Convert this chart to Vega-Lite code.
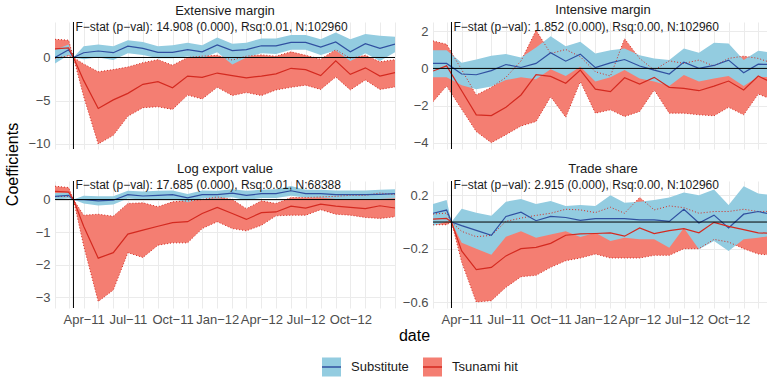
{
"$schema":"https://vega.github.io/schema/vega-lite/v6.json",
"background":"white",
"padding":{"left":4,"top":4,"right":0,"bottom":0},
"datasets":{
"stats":[
{"panel":"ext","date":"2011-03-11","y":3.5,"label":"F−stat (p−val): 14.908 (0.000), Rsq:0.01, N:102960"},
{"panel":"int","date":"2011-03-11","y":2.24,"label":"F−stat (p−val): 1.852 (0.000), Rsq:0.00, N:102960"},
{"panel":"log","date":"2011-03-11","y":0.44,"label":"F−stat (p−val): 17.685 (0.000), Rsq:0.01, N:68388"},
{"panel":"share","date":"2011-03-11","y":0.276,"label":"F−stat (p−val): 2.915 (0.000), Rsq:0.00, N:102960"}
],
"series":[
{"panel":"ext","series":"Substitute","date":"2011-02-01","est":0,"lo":-0.7,"hi":0.9},
{"panel":"ext","series":"Substitute","date":"2011-03-01","est":0.9,"lo":0.3,"hi":1.5},
{"panel":"ext","series":"Substitute","date":"2011-03-11","est":0,"lo":0,"hi":0},
{"panel":"ext","series":"Substitute","date":"2011-04-01","est":0.55,"lo":-0.2,"hi":1.3},
{"panel":"ext","series":"Substitute","date":"2011-05-01","est":0.75,"lo":0,"hi":1.5},
{"panel":"ext","series":"Substitute","date":"2011-06-01","est":0.55,"lo":-0.3,"hi":1.3},
{"panel":"ext","series":"Substitute","date":"2011-07-01","est":1.3,"lo":0.5,"hi":2.0},
{"panel":"ext","series":"Substitute","date":"2011-08-01","est":1.05,"lo":0.3,"hi":1.8},
{"panel":"ext","series":"Substitute","date":"2011-09-01","est":0.6,"lo":-0.1,"hi":1.3},
{"panel":"ext","series":"Substitute","date":"2011-10-01","est":0.6,"lo":-0.1,"hi":1.4},
{"panel":"ext","series":"Substitute","date":"2011-11-01","est":0.9,"lo":0.1,"hi":1.7},
{"panel":"ext","series":"Substitute","date":"2011-12-01","est":0.65,"lo":-0.1,"hi":1.4},
{"panel":"ext","series":"Substitute","date":"2012-01-01","est":1.45,"lo":0.6,"hi":2.3},
{"panel":"ext","series":"Substitute","date":"2012-02-01","est":0.8,"lo":-0.8,"hi":1.6},
{"panel":"ext","series":"Substitute","date":"2012-03-01","est":0.9,"lo":0,"hi":1.7},
{"panel":"ext","series":"Substitute","date":"2012-04-01","est":1.35,"lo":0.5,"hi":2.2},
{"panel":"ext","series":"Substitute","date":"2012-05-01","est":1.35,"lo":0.4,"hi":2.2},
{"panel":"ext","series":"Substitute","date":"2012-06-01","est":1.75,"lo":0.9,"hi":2.6},
{"panel":"ext","series":"Substitute","date":"2012-07-01","est":1.75,"lo":0.9,"hi":2.6},
{"panel":"ext","series":"Substitute","date":"2012-08-01","est":1.2,"lo":0.3,"hi":2.1},
{"panel":"ext","series":"Substitute","date":"2012-09-01","est":1.8,"lo":0.8,"hi":2.9},
{"panel":"ext","series":"Substitute","date":"2012-10-01","est":0.65,"lo":-0.4,"hi":2.1},
{"panel":"ext","series":"Substitute","date":"2012-11-01","est":1.6,"lo":0.5,"hi":2.7},
{"panel":"ext","series":"Substitute","date":"2012-12-01","est":1.05,"lo":-0.4,"hi":2.5},
{"panel":"ext","series":"Substitute","date":"2013-01-01","est":1.55,"lo":0.6,"hi":2.4},
{"panel":"ext","series":"Tsunami hit","date":"2011-02-01","est":1.0,"lo":-0.1,"hi":2.1},
{"panel":"ext","series":"Tsunami hit","date":"2011-03-01","est":1.1,"lo":0.2,"hi":2.0},
{"panel":"ext","series":"Tsunami hit","date":"2011-03-11","est":0,"lo":0,"hi":0},
{"panel":"ext","series":"Tsunami hit","date":"2011-04-01","est":-2.65,"lo":-4.5,"hi":-0.75},
{"panel":"ext","series":"Tsunami hit","date":"2011-05-01","est":-5.9,"lo":-10.0,"hi":-1.65},
{"panel":"ext","series":"Tsunami hit","date":"2011-06-01","est":-4.9,"lo":-9.0,"hi":-1.4},
{"panel":"ext","series":"Tsunami hit","date":"2011-07-01","est":-4.15,"lo":-6.8,"hi":-1.1},
{"panel":"ext","series":"Tsunami hit","date":"2011-08-01","est":-3.1,"lo":-5.8,"hi":-0.6},
{"panel":"ext","series":"Tsunami hit","date":"2011-09-01","est":-2.8,"lo":-5.7,"hi":-0.25},
{"panel":"ext","series":"Tsunami hit","date":"2011-10-01","est":-3.5,"lo":-6.0,"hi":-0.9},
{"panel":"ext","series":"Tsunami hit","date":"2011-11-01","est":-2.15,"lo":-4.35,"hi":0.0},
{"panel":"ext","series":"Tsunami hit","date":"2011-12-01","est":-2.3,"lo":-4.8,"hi":0.15},
{"panel":"ext","series":"Tsunami hit","date":"2012-01-01","est":-1.8,"lo":-3.45,"hi":0.25},
{"panel":"ext","series":"Tsunami hit","date":"2012-02-01","est":-2.1,"lo":-4.4,"hi":-0.3},
{"panel":"ext","series":"Tsunami hit","date":"2012-03-01","est":-2.35,"lo":-4.05,"hi":0.15},
{"panel":"ext","series":"Tsunami hit","date":"2012-04-01","est":-2.15,"lo":-4.4,"hi":0.3},
{"panel":"ext","series":"Tsunami hit","date":"2012-05-01","est":-1.9,"lo":-3.75,"hi":0.15},
{"panel":"ext","series":"Tsunami hit","date":"2012-06-01","est":-1.25,"lo":-3.45,"hi":0.65},
{"panel":"ext","series":"Tsunami hit","date":"2012-07-01","est":-1.4,"lo":-3.2,"hi":0.25},
{"panel":"ext","series":"Tsunami hit","date":"2012-08-01","est":-2.1,"lo":-3.7,"hi":-0.2},
{"panel":"ext","series":"Tsunami hit","date":"2012-09-01","est":-0.4,"lo":-2.25,"hi":0.9},
{"panel":"ext","series":"Tsunami hit","date":"2012-10-01","est":-1.95,"lo":-3.75,"hi":-0.1},
{"panel":"ext","series":"Tsunami hit","date":"2012-11-01","est":-1.2,"lo":-2.6,"hi":0.25},
{"panel":"ext","series":"Tsunami hit","date":"2012-12-01","est":-2.15,"lo":-3.7,"hi":-0.5},
{"panel":"ext","series":"Tsunami hit","date":"2013-01-01","est":-1.75,"lo":-3.4,"hi":-0.25},
{"panel":"int","series":"Substitute","date":"2011-02-01","est":0.27,"lo":-0.48,"hi":0.98},
{"panel":"int","series":"Substitute","date":"2011-03-01","est":0.27,"lo":-0.48,"hi":0.98},
{"panel":"int","series":"Substitute","date":"2011-04-01","est":-0.3,"lo":-0.9,"hi":0.3},
{"panel":"int","series":"Substitute","date":"2011-05-01","est":-0.34,"lo":-1.12,"hi":0.48},
{"panel":"int","series":"Substitute","date":"2011-06-01","est":-0.12,"lo":-0.98,"hi":0.68},
{"panel":"int","series":"Substitute","date":"2011-07-01","est":0.21,"lo":-0.63,"hi":0.77},
{"panel":"int","series":"Substitute","date":"2011-08-01","est":0.05,"lo":-0.48,"hi":0.59},
{"panel":"int","series":"Substitute","date":"2011-09-01","est":0.27,"lo":-0.59,"hi":1.13},
{"panel":"int","series":"Substitute","date":"2011-10-01","est":0.84,"lo":-0.05,"hi":1.73},
{"panel":"int","series":"Substitute","date":"2011-11-01","est":0.39,"lo":-0.41,"hi":1.2},
{"panel":"int","series":"Substitute","date":"2011-12-01","est":0.77,"lo":0.09,"hi":1.43},
{"panel":"int","series":"Substitute","date":"2012-01-01","est":0.04,"lo":-0.71,"hi":0.8},
{"panel":"int","series":"Substitute","date":"2012-02-01","est":0.3,"lo":-0.48,"hi":0.98},
{"panel":"int","series":"Substitute","date":"2012-03-01","est":0.48,"lo":-0.09,"hi":1.07},
{"panel":"int","series":"Substitute","date":"2012-04-01","est":0.13,"lo":-0.54,"hi":0.71},
{"panel":"int","series":"Substitute","date":"2012-05-01","est":-0.09,"lo":-0.71,"hi":0.54},
{"panel":"int","series":"Substitute","date":"2012-06-01","est":-0.3,"lo":-0.95,"hi":0.45},
{"panel":"int","series":"Substitute","date":"2012-07-01","est":0.34,"lo":-0.36,"hi":1.07},
{"panel":"int","series":"Substitute","date":"2012-08-01","est":0,"lo":-0.71,"hi":0.84},
{"panel":"int","series":"Substitute","date":"2012-09-01","est":0.16,"lo":-0.54,"hi":1.38},
{"panel":"int","series":"Substitute","date":"2012-10-01","est":0.45,"lo":-0.41,"hi":1.34},
{"panel":"int","series":"Substitute","date":"2012-11-01","est":-0.23,"lo":-0.95,"hi":0.45},
{"panel":"int","series":"Substitute","date":"2012-12-01","est":0.23,"lo":-0.45,"hi":0.95},
{"panel":"int","series":"Substitute","date":"2013-01-01","est":0.2,"lo":-0.48,"hi":0.84},
{"panel":"int","series":"Tsunami hit","date":"2011-02-01","est":-0.14,"lo":-1.79,"hi":1.48},
{"panel":"int","series":"Tsunami hit","date":"2011-03-01","est":0.14,"lo":-0.95,"hi":1.3},
{"panel":"int","series":"Tsunami hit","date":"2011-04-01","est":-1.2,"lo":-2.2,"hi":-0.07},
{"panel":"int","series":"Tsunami hit","date":"2011-05-01","est":-2.5,"lo":-3.4,"hi":-1.43},
{"panel":"int","series":"Tsunami hit","date":"2011-06-01","est":-2.54,"lo":-4.0,"hi":-1.02},
{"panel":"int","series":"Tsunami hit","date":"2011-07-01","est":-2.09,"lo":-3.57,"hi":-0.48},
{"panel":"int","series":"Tsunami hit","date":"2011-08-01","est":-1.43,"lo":-3.1,"hi":0.4},
{"panel":"int","series":"Tsunami hit","date":"2011-09-01","est":-0.34,"lo":-2.86,"hi":2.05},
{"panel":"int","series":"Tsunami hit","date":"2011-10-01","est":-0.43,"lo":-1.52,"hi":0.8},
{"panel":"int","series":"Tsunami hit","date":"2011-11-01","est":-0.8,"lo":-2.63,"hi":1.02},
{"panel":"int","series":"Tsunami hit","date":"2011-12-01","est":-0.09,"lo":-0.71,"hi":0.63},
{"panel":"int","series":"Tsunami hit","date":"2012-01-01","est":-1.12,"lo":-2.41,"hi":-0.18},
{"panel":"int","series":"Tsunami hit","date":"2012-02-01","est":-1.25,"lo":-2.23,"hi":-0.41},
{"panel":"int","series":"Tsunami hit","date":"2012-03-01","est":-0.5,"lo":-2.59,"hi":1.6},
{"panel":"int","series":"Tsunami hit","date":"2012-04-01","est":-0.84,"lo":-2.32,"hi":0.54},
{"panel":"int","series":"Tsunami hit","date":"2012-05-01","est":-0.48,"lo":-1.16,"hi":-0.09},
{"panel":"int","series":"Tsunami hit","date":"2012-06-01","est":-1.02,"lo":-2.41,"hi":0.41},
{"panel":"int","series":"Tsunami hit","date":"2012-07-01","est":-1.07,"lo":-2.41,"hi":0.27},
{"panel":"int","series":"Tsunami hit","date":"2012-08-01","est":-1.2,"lo":-2.5,"hi":0.45},
{"panel":"int","series":"Tsunami hit","date":"2012-09-01","est":-0.95,"lo":-2.55,"hi":0.13},
{"panel":"int","series":"Tsunami hit","date":"2012-10-01","est":-0.68,"lo":-2.09,"hi":0.54},
{"panel":"int","series":"Tsunami hit","date":"2012-11-01","est":-1.16,"lo":-2.5,"hi":0.66},
{"panel":"int","series":"Tsunami hit","date":"2012-12-01","est":-0.41,"lo":-1.38,"hi":0.54},
{"panel":"int","series":"Tsunami hit","date":"2013-01-01","est":-0.8,"lo":-1.7,"hi":0.27},
{"panel":"log","series":"Substitute","date":"2011-02-01","est":0.1,"lo":0,"hi":0.2},
{"panel":"log","series":"Substitute","date":"2011-03-01","est":0.13,"lo":0.03,"hi":0.22},
{"panel":"log","series":"Substitute","date":"2011-03-11","est":0,"lo":0,"hi":0},
{"panel":"log","series":"Substitute","date":"2011-04-01","est":0,"lo":-0.12,"hi":0.12},
{"panel":"log","series":"Substitute","date":"2011-05-01","est":-0.04,"lo":-0.18,"hi":0.1},
{"panel":"log","series":"Substitute","date":"2011-06-01","est":-0.02,"lo":-0.15,"hi":0.1},
{"panel":"log","series":"Substitute","date":"2011-07-01","est":0.15,"lo":0.03,"hi":0.27},
{"panel":"log","series":"Substitute","date":"2011-08-01","est":0.11,"lo":0,"hi":0.25},
{"panel":"log","series":"Substitute","date":"2011-09-01","est":0.13,"lo":0,"hi":0.27},
{"panel":"log","series":"Substitute","date":"2011-10-01","est":0.15,"lo":0.02,"hi":0.28},
{"panel":"log","series":"Substitute","date":"2011-11-01","est":0.05,"lo":-0.08,"hi":0.17},
{"panel":"log","series":"Substitute","date":"2011-12-01","est":0.15,"lo":0.03,"hi":0.28},
{"panel":"log","series":"Substitute","date":"2012-01-01","est":0.15,"lo":0.03,"hi":0.27},
{"panel":"log","series":"Substitute","date":"2012-02-01","est":0.2,"lo":0.07,"hi":0.32},
{"panel":"log","series":"Substitute","date":"2012-03-01","est":0.13,"lo":-0.02,"hi":0.27},
{"panel":"log","series":"Substitute","date":"2012-04-01","est":0.18,"lo":0.05,"hi":0.3},
{"panel":"log","series":"Substitute","date":"2012-05-01","est":0.18,"lo":0.05,"hi":0.32},
{"panel":"log","series":"Substitute","date":"2012-06-01","est":0.27,"lo":0.12,"hi":0.42},
{"panel":"log","series":"Substitute","date":"2012-07-01","est":0.18,"lo":0.06,"hi":0.3},
{"panel":"log","series":"Substitute","date":"2012-08-01","est":0.18,"lo":0.06,"hi":0.3},
{"panel":"log","series":"Substitute","date":"2012-09-01","est":0.15,"lo":0.02,"hi":0.28},
{"panel":"log","series":"Substitute","date":"2012-10-01","est":0.15,"lo":0.02,"hi":0.28},
{"panel":"log","series":"Substitute","date":"2012-11-01","est":0.15,"lo":0.02,"hi":0.28},
{"panel":"log","series":"Substitute","date":"2012-12-01","est":0.16,"lo":0.02,"hi":0.3},
{"panel":"log","series":"Substitute","date":"2013-01-01","est":0.18,"lo":0.04,"hi":0.32},
{"panel":"log","series":"Tsunami hit","date":"2011-02-01","est":0.25,"lo":0.09,"hi":0.41},
{"panel":"log","series":"Tsunami hit","date":"2011-03-01","est":0.23,"lo":0.1,"hi":0.37},
{"panel":"log","series":"Tsunami hit","date":"2011-03-11","est":0,"lo":0,"hi":0},
{"panel":"log","series":"Tsunami hit","date":"2011-04-01","est":-0.82,"lo":-1.42,"hi":-0.48},
{"panel":"log","series":"Tsunami hit","date":"2011-05-01","est":-1.8,"lo":-3.13,"hi":-0.45},
{"panel":"log","series":"Tsunami hit","date":"2011-06-01","est":-1.63,"lo":-2.78,"hi":-0.51},
{"panel":"log","series":"Tsunami hit","date":"2011-07-01","est":-1.06,"lo":-1.63,"hi":-0.12},
{"panel":"log","series":"Tsunami hit","date":"2011-08-01","est":-0.94,"lo":-1.78,"hi":-0.1},
{"panel":"log","series":"Tsunami hit","date":"2011-09-01","est":-0.82,"lo":-1.4,"hi":-0.22},
{"panel":"log","series":"Tsunami hit","date":"2011-10-01","est":-0.71,"lo":-1.33,"hi":-0.07},
{"panel":"log","series":"Tsunami hit","date":"2011-11-01","est":-0.68,"lo":-1.33,"hi":-0.04},
{"panel":"log","series":"Tsunami hit","date":"2011-12-01","est":-0.43,"lo":-0.89,"hi":0},
{"panel":"log","series":"Tsunami hit","date":"2012-01-01","est":-0.24,"lo":-0.68,"hi":0.08},
{"panel":"log","series":"Tsunami hit","date":"2012-02-01","est":-0.43,"lo":-0.89,"hi":0},
{"panel":"log","series":"Tsunami hit","date":"2012-03-01","est":-0.61,"lo":-0.96,"hi":-0.28},
{"panel":"log","series":"Tsunami hit","date":"2012-04-01","est":-0.4,"lo":-0.79,"hi":-0.04},
{"panel":"log","series":"Tsunami hit","date":"2012-05-01","est":-0.38,"lo":-0.5,"hi":-0.12},
{"panel":"log","series":"Tsunami hit","date":"2012-06-01","est":-0.2,"lo":-0.48,"hi":0.06},
{"panel":"log","series":"Tsunami hit","date":"2012-07-01","est":-0.26,"lo":-0.48,"hi":0.06},
{"panel":"log","series":"Tsunami hit","date":"2012-08-01","est":-0.14,"lo":-0.31,"hi":0.08},
{"panel":"log","series":"Tsunami hit","date":"2012-09-01","est":-0.2,"lo":-0.45,"hi":0.1},
{"panel":"log","series":"Tsunami hit","date":"2012-10-01","est":-0.24,"lo":-0.48,"hi":0.13},
{"panel":"log","series":"Tsunami hit","date":"2012-11-01","est":-0.28,"lo":-0.55,"hi":0.13},
{"panel":"log","series":"Tsunami hit","date":"2012-12-01","est":-0.19,"lo":-0.58,"hi":0.2},
{"panel":"log","series":"Tsunami hit","date":"2013-01-01","est":-0.26,"lo":-0.53,"hi":0.15},
{"panel":"share","series":"Substitute","date":"2011-02-01","est":0.066,"lo":-0.027,"hi":0.135},
{"panel":"share","series":"Substitute","date":"2011-03-01","est":0.09,"lo":0.005,"hi":0.165},
{"panel":"share","series":"Substitute","date":"2011-03-11","est":0,"lo":0,"hi":0},
{"panel":"share","series":"Substitute","date":"2011-04-01","est":-0.027,"lo":-0.155,"hi":0.1},
{"panel":"share","series":"Substitute","date":"2011-05-01","est":-0.062,"lo":-0.2,"hi":0.07},
{"panel":"share","series":"Substitute","date":"2011-06-01","est":-0.1,"lo":-0.246,"hi":0.047},
{"panel":"share","series":"Substitute","date":"2011-07-01","est":0.042,"lo":-0.11,"hi":0.153},
{"panel":"share","series":"Substitute","date":"2011-08-01","est":0.074,"lo":-0.07,"hi":0.172},
{"panel":"share","series":"Substitute","date":"2011-09-01","est":0.01,"lo":-0.118,"hi":0.135},
{"panel":"share","series":"Substitute","date":"2011-10-01","est":0.042,"lo":-0.094,"hi":0.158},
{"panel":"share","series":"Substitute","date":"2011-11-01","est":0.034,"lo":-0.07,"hi":0.121},
{"panel":"share","series":"Substitute","date":"2011-12-01","est":0.012,"lo":-0.113,"hi":0.128},
{"panel":"share","series":"Substitute","date":"2012-01-01","est":0.025,"lo":-0.08,"hi":0.121},
{"panel":"share","series":"Substitute","date":"2012-02-01","est":0.025,"lo":-0.143,"hi":0.202},
{"panel":"share","series":"Substitute","date":"2012-03-01","est":0.025,"lo":-0.118,"hi":0.145},
{"panel":"share","series":"Substitute","date":"2012-04-01","est":0.017,"lo":-0.13,"hi":0.153},
{"panel":"share","series":"Substitute","date":"2012-05-01","est":0.017,"lo":-0.13,"hi":0.165},
{"panel":"share","series":"Substitute","date":"2012-06-01","est":0.005,"lo":-0.192,"hi":0.185},
{"panel":"share","series":"Substitute","date":"2012-07-01","est":0.096,"lo":-0.044,"hi":0.222},
{"panel":"share","series":"Substitute","date":"2012-08-01","est":-0.007,"lo":-0.204,"hi":0.202},
{"panel":"share","series":"Substitute","date":"2012-09-01","est":0.052,"lo":-0.143,"hi":0.244},
{"panel":"share","series":"Substitute","date":"2012-10-01","est":-0.044,"lo":-0.217,"hi":0.128},
{"panel":"share","series":"Substitute","date":"2012-11-01","est":0.059,"lo":-0.13,"hi":0.268},
{"panel":"share","series":"Substitute","date":"2012-12-01","est":0.079,"lo":-0.118,"hi":0.214},
{"panel":"share","series":"Substitute","date":"2013-01-01","est":0.054,"lo":-0.1,"hi":0.2},
{"panel":"share","series":"Tsunami hit","date":"2011-02-01","est":0.022,"lo":-0.02,"hi":0.06},
{"panel":"share","series":"Tsunami hit","date":"2011-03-01","est":0.027,"lo":-0.02,"hi":0.067},
{"panel":"share","series":"Tsunami hit","date":"2011-03-11","est":0,"lo":0,"hi":0},
{"panel":"share","series":"Tsunami hit","date":"2011-04-01","est":-0.217,"lo":-0.3,"hi":-0.07},
{"panel":"share","series":"Tsunami hit","date":"2011-05-01","est":-0.357,"lo":-0.6,"hi":-0.11},
{"panel":"share","series":"Tsunami hit","date":"2011-06-01","est":-0.34,"lo":-0.59,"hi":-0.1},
{"panel":"share","series":"Tsunami hit","date":"2011-07-01","est":-0.254,"lo":-0.49,"hi":0.005},
{"panel":"share","series":"Tsunami hit","date":"2011-08-01","est":-0.2,"lo":-0.41,"hi":0.03},
{"panel":"share","series":"Tsunami hit","date":"2011-09-01","est":-0.19,"lo":-0.4,"hi":0.05},
{"panel":"share","series":"Tsunami hit","date":"2011-10-01","est":-0.16,"lo":-0.34,"hi":0.066},
{"panel":"share","series":"Tsunami hit","date":"2011-11-01","est":-0.099,"lo":-0.29,"hi":0.096},
{"panel":"share","series":"Tsunami hit","date":"2011-12-01","est":-0.089,"lo":-0.27,"hi":0.091},
{"panel":"share","series":"Tsunami hit","date":"2012-01-01","est":-0.086,"lo":-0.24,"hi":0.071},
{"panel":"share","series":"Tsunami hit","date":"2012-02-01","est":-0.081,"lo":-0.27,"hi":0.111},
{"panel":"share","series":"Tsunami hit","date":"2012-03-01","est":-0.106,"lo":-0.27,"hi":0.066},
{"panel":"share","series":"Tsunami hit","date":"2012-04-01","est":-0.044,"lo":-0.27,"hi":0.185},
{"panel":"share","series":"Tsunami hit","date":"2012-05-01","est":-0.086,"lo":-0.25,"hi":0.091},
{"panel":"share","series":"Tsunami hit","date":"2012-06-01","est":-0.064,"lo":-0.25,"hi":0.121},
{"panel":"share","series":"Tsunami hit","date":"2012-07-01","est":-0.049,"lo":-0.2,"hi":0.108},
{"panel":"share","series":"Tsunami hit","date":"2012-08-01","est":-0.081,"lo":-0.2,"hi":0.066},
{"panel":"share","series":"Tsunami hit","date":"2012-09-01","est":-0.002,"lo":-0.13,"hi":0.079},
{"panel":"share","series":"Tsunami hit","date":"2012-10-01","est":-0.032,"lo":-0.15,"hi":0.079},
{"panel":"share","series":"Tsunami hit","date":"2012-11-01","est":-0.057,"lo":-0.2,"hi":0.096},
{"panel":"share","series":"Tsunami hit","date":"2012-12-01","est":-0.081,"lo":-0.24,"hi":0.079},
{"panel":"share","series":"Tsunami hit","date":"2013-01-01","est":-0.085,"lo":-0.25,"hi":0.08}
]
},
"columns":2,
"spacing":{"row":32,"column":38},
"bounds":"flush",
"concat":[
{
"width":340,"height":127,
"title":{"text":"Extensive margin"},
"data":{"name":"series"},
"transform":[{"filter":"datum.panel == 'ext'"}],
"layer":[
{"transform":[{"filter":"datum.series == 'Tsunami hit'"}],"mark":{"type":"area","clip":true,"opacity":1},
"encoding":{
"x":{"field":"date","type":"temporal","scale":{"type":"utc","domain":[{"year":2011,"month":2,"date":1,"utc":true},{"year":2013,"month":1,"date":1,"utc":true}]},"axis":{"title":null,"labels":false,"tickCount":{"interval":"month","step":1}}},
"y":{"field":"lo","type":"quantitative","scale":{"domain":[-10.58,4.1],"nice":false,"zero":false},"axis":{"values":[-10,-7.5,-5,-2.5,0,2.5],"labelOverlap":false,"labelExpr":"datum.value % 5 == 0 ? format(datum.value, 'd') : ''","title":"Coefficients","titleX":-38,"titleY":142,"titleAngle":270,"titleAlign":"center","titleBaseline":"alphabetic"}},
"y2":{"field":"hi"},
"fill":{"field":"series","type":"nominal","scale":{"domain":["Substitute","Tsunami hit"],"range":["#93CCE0","#F47E72"]},
"legend":{"orient":"none","legendX":266,"legendY":334.5,"direction":"horizontal","title":null,"symbolType":"M-1,0H1V1H-1V-1H1V0","symbolSize":361,"symbolStrokeWidth":1.5,"symbolDash":[19,200],"symbolOpacity":1,"labelFontSize":13,"labelColor":"#1A1A1A","labelOffset":9,"columnPadding":11,"padding":0,
"encode":{"symbols":{"update":{"stroke":[{"test":"datum.value === 'Substitute'","value":"#3050A0"},{"value":"#D42A20"}]}}}}}
}},
{"transform":[{"filter":"datum.series == 'Substitute'"}],"mark":{"type":"area","clip":true,"opacity":1},
"encoding":{"x":{"field":"date","type":"temporal"},"y":{"field":"lo","type":"quantitative"},"y2":{"field":"hi"},
"fill":{"field":"series","type":"nominal","scale":{"domain":["Substitute","Tsunami hit"],"range":["#93CCE0","#F47E72"]},"legend":null}}},
{"transform":[{"filter":"datum.series == 'Tsunami hit'"}],"mark":{"type":"line","clip":true,"color":"#D42A20","strokeDash":[1,2],"strokeWidth":1},
"encoding":{"x":{"field":"date","type":"temporal"},"y":{"field":"lo","type":"quantitative"}}},
{"transform":[{"filter":"datum.series == 'Tsunami hit'"}],"mark":{"type":"line","clip":true,"color":"#D42A20","strokeDash":[1,2],"strokeWidth":1},
"encoding":{"x":{"field":"date","type":"temporal"},"y":{"field":"hi","type":"quantitative"}}},
{"mark":{"type":"line","clip":true,"strokeWidth":1.2},
"encoding":{"x":{"field":"date","type":"temporal"},"y":{"field":"est","type":"quantitative"},
"stroke":{"field":"series","type":"nominal","scale":{"domain":["Substitute","Tsunami hit"],"range":["#3050A0","#D42A20"]},"legend":null}}},
{"data":{"name":"stats"},"transform":[{"filter":"datum.panel == 'ext'"}],"mark":{"type":"rule","color":"#000000","strokeWidth":1},
"encoding":{"y":{"datum":0,"type":"quantitative"}}},
{"data":{"name":"stats"},"transform":[{"filter":"datum.panel == 'ext'"}],"mark":{"type":"rule","color":"#000000","strokeWidth":1},
"encoding":{"x":{"field":"date","type":"temporal"}}},
{"data":{"name":"stats"},"transform":[{"filter":"datum.panel == 'ext'"}],"mark":{"type":"text","align":"left","baseline":"middle","dx":2,"fontSize":12,"color":"#1A1A1A"},
"encoding":{"x":{"field":"date","type":"temporal"},"y":{"field":"y","type":"quantitative"},"text":{"field":"label","type":"nominal"}}}
]
},
{
"width":334,"height":127,
"title":{"text":"Intensive margin","dx":3},
"data":{"name":"series"},
"transform":[{"filter":"datum.panel == 'int'"}],
"layer":[
{"transform":[{"filter":"datum.series == 'Tsunami hit'"}],"mark":{"type":"area","clip":true,"opacity":1},
"encoding":{
"x":{"field":"date","type":"temporal","scale":{"type":"utc","domain":[{"year":2011,"month":2,"date":1,"utc":true},{"year":2012,"month":12,"date":19,"utc":true}]},"axis":{"title":null,"labels":false,"tickCount":{"interval":"month","step":1}}},
"y":{"field":"lo","type":"quantitative","scale":{"domain":[-4.34,2.5],"nice":false,"zero":false},"axis":{"values":[-4,-3,-2,-1,0,1,2],"labelOverlap":false,"labelExpr":"datum.value % 2 == 0 ? format(datum.value, 'd') : ''","title":null}},
"y2":{"field":"hi"},
"fill":{"field":"series","type":"nominal","scale":{"domain":["Substitute","Tsunami hit"],"range":["#93CCE0","#F47E72"]},"legend":null}
}},
{"transform":[{"filter":"datum.series == 'Substitute'"}],"mark":{"type":"area","clip":true,"opacity":1},
"encoding":{"x":{"field":"date","type":"temporal"},"y":{"field":"lo","type":"quantitative"},"y2":{"field":"hi"},
"fill":{"field":"series","type":"nominal","scale":{"domain":["Substitute","Tsunami hit"],"range":["#93CCE0","#F47E72"]},"legend":null}}},
{"transform":[{"filter":"datum.series == 'Tsunami hit'"}],"mark":{"type":"line","clip":true,"color":"#D42A20","strokeDash":[1,2],"strokeWidth":1},
"encoding":{"x":{"field":"date","type":"temporal"},"y":{"field":"lo","type":"quantitative"}}},
{"transform":[{"filter":"datum.series == 'Tsunami hit'"}],"mark":{"type":"line","clip":true,"color":"#D42A20","strokeDash":[1,2],"strokeWidth":1},
"encoding":{"x":{"field":"date","type":"temporal"},"y":{"field":"hi","type":"quantitative"}}},
{"mark":{"type":"line","clip":true,"strokeWidth":1.2},
"encoding":{"x":{"field":"date","type":"temporal"},"y":{"field":"est","type":"quantitative"},
"stroke":{"field":"series","type":"nominal","scale":{"domain":["Substitute","Tsunami hit"],"range":["#3050A0","#D42A20"]},"legend":null}}},
{"data":{"name":"stats"},"transform":[{"filter":"datum.panel == 'int'"}],"mark":{"type":"rule","color":"#000000","strokeWidth":1},
"encoding":{"y":{"datum":0,"type":"quantitative"}}},
{"data":{"name":"stats"},"transform":[{"filter":"datum.panel == 'int'"}],"mark":{"type":"rule","color":"#000000","strokeWidth":1},
"encoding":{"x":{"field":"date","type":"temporal"}}},
{"data":{"name":"stats"},"transform":[{"filter":"datum.panel == 'int'"}],"mark":{"type":"text","align":"left","baseline":"middle","dx":2,"fontSize":12,"color":"#1A1A1A"},
"encoding":{"x":{"field":"date","type":"temporal"},"y":{"field":"y","type":"quantitative"},"text":{"field":"label","type":"nominal"}}}
]
},
{
"width":340,"height":127,
"title":{"text":"Log export value"},
"data":{"name":"series"},
"transform":[{"filter":"datum.panel == 'log'"}],
"layer":[
{"transform":[{"filter":"datum.series == 'Tsunami hit'"}],"mark":{"type":"area","clip":true,"opacity":1},
"encoding":{
"x":{"field":"date","type":"temporal","scale":{"type":"utc","domain":[{"year":2011,"month":2,"date":1,"utc":true},{"year":2013,"month":1,"date":1,"utc":true}]},"axis":{"title":"date","titleX":359,"titleY":32,"titleAlign":"center","titleBaseline":"alphabetic","tickCount":{"interval":"month","step":1},"labelExpr":"utcmonth(datum.value) % 3 == 0 && utcyear(datum.value) < 2013 ? utcFormat(datum.value, '%b') + '−' + utcFormat(datum.value, '%y') : ''","labelOverlap":false,"labelFlush":false,"labelPadding":5}},
"y":{"field":"lo","type":"quantitative","scale":{"domain":[-3.33,0.57],"nice":false,"zero":false},"axis":{"values":[-3,-2.5,-2,-1.5,-1,-0.5,0,0.5],"labelOverlap":false,"labelExpr":"datum.value % 1 == 0 ? format(datum.value, 'd') : ''","title":null}},
"y2":{"field":"hi"},
"fill":{"field":"series","type":"nominal","scale":{"domain":["Substitute","Tsunami hit"],"range":["#93CCE0","#F47E72"]},"legend":null}
}},
{"transform":[{"filter":"datum.series == 'Substitute'"}],"mark":{"type":"area","clip":true,"opacity":1},
"encoding":{"x":{"field":"date","type":"temporal"},"y":{"field":"lo","type":"quantitative"},"y2":{"field":"hi"},
"fill":{"field":"series","type":"nominal","scale":{"domain":["Substitute","Tsunami hit"],"range":["#93CCE0","#F47E72"]},"legend":null}}},
{"transform":[{"filter":"datum.series == 'Tsunami hit'"}],"mark":{"type":"line","clip":true,"color":"#D42A20","strokeDash":[1,2],"strokeWidth":1},
"encoding":{"x":{"field":"date","type":"temporal"},"y":{"field":"lo","type":"quantitative"}}},
{"transform":[{"filter":"datum.series == 'Tsunami hit'"}],"mark":{"type":"line","clip":true,"color":"#D42A20","strokeDash":[1,2],"strokeWidth":1},
"encoding":{"x":{"field":"date","type":"temporal"},"y":{"field":"hi","type":"quantitative"}}},
{"mark":{"type":"line","clip":true,"strokeWidth":1.2},
"encoding":{"x":{"field":"date","type":"temporal"},"y":{"field":"est","type":"quantitative"},
"stroke":{"field":"series","type":"nominal","scale":{"domain":["Substitute","Tsunami hit"],"range":["#3050A0","#D42A20"]},"legend":null}}},
{"data":{"name":"stats"},"transform":[{"filter":"datum.panel == 'log'"}],"mark":{"type":"rule","color":"#000000","strokeWidth":1},
"encoding":{"y":{"datum":0,"type":"quantitative"}}},
{"data":{"name":"stats"},"transform":[{"filter":"datum.panel == 'log'"}],"mark":{"type":"rule","color":"#000000","strokeWidth":1},
"encoding":{"x":{"field":"date","type":"temporal"}}},
{"data":{"name":"stats"},"transform":[{"filter":"datum.panel == 'log'"}],"mark":{"type":"text","align":"left","baseline":"middle","dx":2,"fontSize":12,"color":"#1A1A1A"},
"encoding":{"x":{"field":"date","type":"temporal"},"y":{"field":"y","type":"quantitative"},"text":{"field":"label","type":"nominal"}}}
]
},
{
"width":334,"height":127,
"title":{"text":"Trade share","dx":3},
"data":{"name":"series"},
"transform":[{"filter":"datum.panel == 'share'"}],
"layer":[
{"transform":[{"filter":"datum.series == 'Tsunami hit'"}],"mark":{"type":"area","clip":true,"opacity":1},
"encoding":{
"x":{"field":"date","type":"temporal","scale":{"type":"utc","domain":[{"year":2011,"month":2,"date":1,"utc":true},{"year":2012,"month":12,"date":19,"utc":true}]},"axis":{"title":null,"tickCount":{"interval":"month","step":1},"labelExpr":"utcmonth(datum.value) % 3 == 0 && utcyear(datum.value) < 2013 ? utcFormat(datum.value, '%b') + '−' + utcFormat(datum.value, '%y') : ''","labelOverlap":false,"labelFlush":false,"labelPadding":5}},
"y":{"field":"lo","type":"quantitative","scale":{"domain":[-0.645,0.308],"nice":false,"zero":false},"axis":{"values":[-0.6,-0.5,-0.4,-0.3,-0.2,-0.1,0,0.1,0.2,0.3],"labelOverlap":false,"labelSeparation":-100,"labelLineHeight":10,"labelBound":false,"labelExpr":"indexof([-0.6,-0.4,-0.2,0,0.2], datum.value) >= 0 ? format(datum.value, '.1f') : ''","title":null}},
"y2":{"field":"hi"},
"fill":{"field":"series","type":"nominal","scale":{"domain":["Substitute","Tsunami hit"],"range":["#93CCE0","#F47E72"]},"legend":null}
}},
{"transform":[{"filter":"datum.series == 'Substitute'"}],"mark":{"type":"area","clip":true,"opacity":1},
"encoding":{"x":{"field":"date","type":"temporal"},"y":{"field":"lo","type":"quantitative"},"y2":{"field":"hi"},
"fill":{"field":"series","type":"nominal","scale":{"domain":["Substitute","Tsunami hit"],"range":["#93CCE0","#F47E72"]},"legend":null}}},
{"transform":[{"filter":"datum.series == 'Tsunami hit'"}],"mark":{"type":"line","clip":true,"color":"#D42A20","strokeDash":[1,2],"strokeWidth":1},
"encoding":{"x":{"field":"date","type":"temporal"},"y":{"field":"lo","type":"quantitative"}}},
{"transform":[{"filter":"datum.series == 'Tsunami hit'"}],"mark":{"type":"line","clip":true,"color":"#D42A20","strokeDash":[1,2],"strokeWidth":1},
"encoding":{"x":{"field":"date","type":"temporal"},"y":{"field":"hi","type":"quantitative"}}},
{"mark":{"type":"line","clip":true,"strokeWidth":1.2},
"encoding":{"x":{"field":"date","type":"temporal"},"y":{"field":"est","type":"quantitative"},
"stroke":{"field":"series","type":"nominal","scale":{"domain":["Substitute","Tsunami hit"],"range":["#3050A0","#D42A20"]},"legend":null}}},
{"data":{"name":"stats"},"transform":[{"filter":"datum.panel == 'share'"}],"mark":{"type":"rule","color":"#000000","strokeWidth":1},
"encoding":{"y":{"datum":0,"type":"quantitative"}}},
{"data":{"name":"stats"},"transform":[{"filter":"datum.panel == 'share'"}],"mark":{"type":"rule","color":"#000000","strokeWidth":1},
"encoding":{"x":{"field":"date","type":"temporal"}}},
{"data":{"name":"stats"},"transform":[{"filter":"datum.panel == 'share'"}],"mark":{"type":"text","align":"left","baseline":"middle","dx":2,"fontSize":12,"color":"#1A1A1A"},
"encoding":{"x":{"field":"date","type":"temporal"},"y":{"field":"y","type":"quantitative"},"text":{"field":"label","type":"nominal"}}}
]
}
],
"config":{
"view":{"stroke":null},
"font":"Liberation Sans",
"title":{"fontSize":13,"fontWeight":"normal","color":"#1A1A1A","anchor":"middle","frame":"group","offset":3.5,"baseline":"alphabetic"},
"axis":{"domain":false,"ticks":false,"grid":true,"gridColor":"#EBEBEB","gridWidth":1,"labelFontSize":13,"labelColor":"#4D4D4D","titleFontSize":16,"titleFontWeight":"normal","titleColor":"#000000","labelPadding":5,"labelOverlap":false},
"axisY":{"labelOverlap":false},
"axisLeft":{"labelOverlap":false}
}
}
